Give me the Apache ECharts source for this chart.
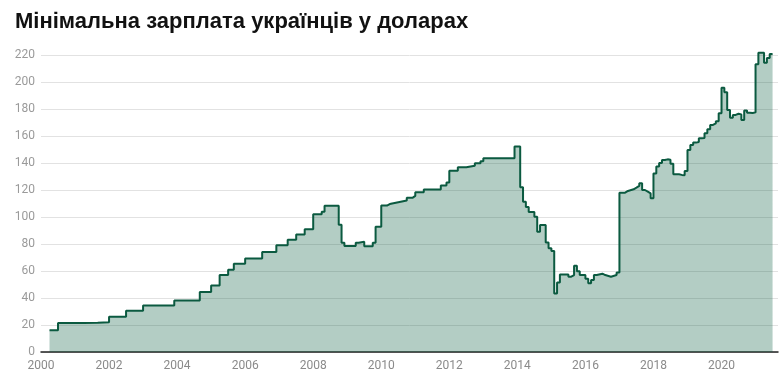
<!DOCTYPE html>
<html><head><meta charset="utf-8">
<script src="https://cdn.jsdelivr.net/npm/echarts@6/dist/echarts.min.js"></script>
<style>html,body{margin:0;padding:0;background:#fff}#c{width:783px;height:390px}</style>
</head><body><div id="c"></div>
<script>
const chartTitle = 'Мінімальна зарплата українців у доларах';
const yTickValues = [0, 20, 40, 60, 80, 100, 120, 140, 160, 180, 200, 220];
const xTickLabels = ['2000','2002','2004','2006','2008','2010','2012','2014','2016','2018','2020'];

const months = [
 '2000-04','2000-07','2001-04','2001-09','2002-01','2002-07','2003-01','2003-12','2004-09',
 '2005-01','2005-04','2005-07','2005-09','2006-01','2006-07','2006-12','2007-04','2007-07','2007-10',
 '2008-01','2008-04','2008-05','2008-10','2008-11','2008-12','2009-04','2009-05','2009-07','2009-10','2009-11',
 '2010-01','2010-03','2010-04','2010-07','2010-10','2010-12','2011-01','2011-04','2011-10','2011-12',
 '2012-01','2012-04','2012-07','2012-10','2012-12','2013-01','2013-12',
 '2014-02','2014-03','2014-04','2014-05','2014-07','2014-08','2014-09','2014-11','2014-12',
 '2015-01','2015-02','2015-03','2015-04','2015-07','2015-08','2015-09','2015-10','2015-11',
 '2016-01','2016-02','2016-03','2016-04','2016-05','2016-07','2016-08','2016-10','2016-12',
 '2017-01','2017-03','2017-04','2017-06','2017-07','2017-08','2017-09','2017-10','2017-11','2017-12',
 '2018-01','2018-02','2018-03','2018-04','2018-05','2018-06','2018-07','2018-08','2018-09','2018-10','2018-11','2018-12',
 '2019-01','2019-02','2019-03','2019-04','2019-05','2019-06','2019-07','2019-08','2019-09','2019-10','2019-11','2019-12',
 '2020-01','2020-02','2020-03','2020-04','2020-05','2020-06','2020-07','2020-08','2020-09','2020-10','2020-11','2020-12',
 '2021-01','2021-02','2021-03','2021-04','2021-05','2021-06','2021-07'
];
const wageUsd = [
 16.1, 21.4, 21.7, 22.1, 26.2, 30.6, 34.5, 38.2, 44.4,
 49.3, 57.0, 60.9, 65.4, 69.2, 74.0, 79.1, 83.1, 87.0, 91.0,
 102.0, 103.8, 108.4, 94.3, 81.0, 78.5, 81.0, 81.7, 78.3, 81.0, 92.8,
 108.5, 109.6, 111.0, 112.2, 114.2, 115.6, 118.3, 120.4, 123.3, 125.6,
 134.2, 136.8, 138.0, 139.8, 141.3, 143.5, 152.3,
 122.0, 111.3, 107.4, 103.7, 100.2, 89.1, 94.0, 81.2, 76.8,
 74.9, 43.4, 51.4, 57.5, 55.8, 57.0, 63.8, 59.8, 57.0,
 54.2, 50.9, 53.3, 57.0, 58.0, 57.0, 55.8, 57.0, 58.8,
 118.0, 119.3, 120.5, 121.7, 123.0, 125.0, 120.0, 118.8, 117.5, 113.8,
 132.3, 137.5, 140.0, 142.2, 142.7, 142.5, 139.4, 131.6, 131.6, 131.2, 131.0, 134.0,
 149.6, 153.3, 155.1, 155.5, 158.3, 158.5, 162.0, 165.0, 168.2, 169.4, 171.0, 176.8,
 195.8, 192.5, 179.3, 173.5, 175.6, 176.5, 176.0, 171.9, 178.8, 177.3, 177.0, 177.5,
 213.1, 221.7, 221.7, 214.3, 217.8, 220.7, 220.7
];

function toYear(m) { const p = m.split('-'); return +p[0] + (+p[1] - 1) / 12; }
const seriesData = months.map((m, i) => [toYear(m), wageUsd[i]]);

const chart = echarts.init(document.getElementById('c'), null, {renderer: 'canvas'});
chart.setOption({
  animation: false,
  backgroundColor: '#fff',
  title: {
    text: chartTitle, left: 10, top: 6,
    textStyle: {fontFamily: 'Liberation Sans, Arial, sans-serif', fontSize: 22, fontWeight: 'bold', color: '#111'}
  },
  grid: {left: 41, right: 5, top: 55, bottom: 38, containLabel: false},
  xAxis: {
    type: 'value', min: 2000, max: 2021.66, interval: 2,
    axisLine: {show: true, lineStyle: {color: '#222', width: 1.5}},
    axisTick: {show: false},
    splitLine: {show: false},
    axisLabel: {
      color: '#8a8a8a', fontFamily: 'Roboto, sans-serif', fontSize: 12, margin: 8,
      showMaxLabel: false,
      formatter: v => xTickLabels.indexOf(String(v)) >= 0 ? String(v) : ''
    }
  },
  yAxis: {
    type: 'value', min: yTickValues[0], max: yTickValues[yTickValues.length - 1], interval: 20,
    axisLine: {show: false}, axisTick: {show: false},
    splitLine: {lineStyle: {color: '#e2e2e2', width: 1}},
    axisLabel: {color: '#9a9a9a', fontFamily: 'Roboto, sans-serif', fontSize: 12, margin: 6}
  },
  series: [{
    type: 'line', step: 'end', symbol: 'none', clip: false,
    data: seriesData,
    lineStyle: {color: '#0b5a40', width: 2},
    areaStyle: {color: '#0a5c42', opacity: 0.31}
  }]
});
</script></body></html>
